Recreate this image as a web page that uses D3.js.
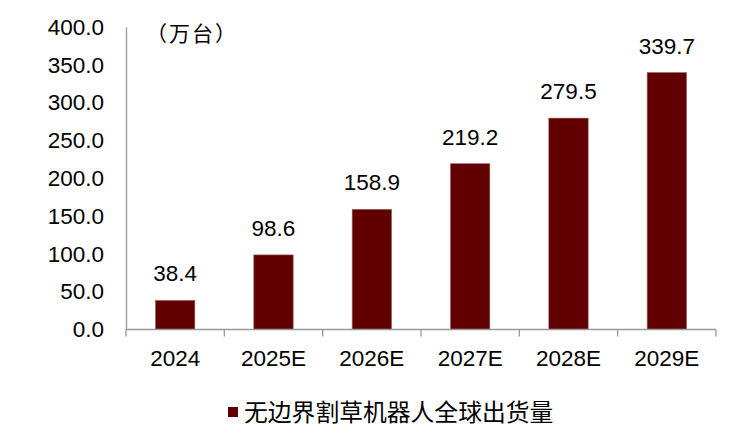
<!DOCTYPE html>
<html><head><meta charset="utf-8">
<script src="https://cdn.jsdelivr.net/npm/d3@7"></script>
<style>body{margin:0;background:#fff}svg{display:block}</style>
</head><body>
<svg id="c" width="742" height="435"></svg>
<script>
const categories = ["2024","2025E","2026E","2027E","2028E","2029E"];
const values = [38.4, 98.6, 158.9, 219.2, 279.5, 339.7];
const yTicks = [0,50,100,150,200,250,300,350,400];
const seriesName = "无边界割草机器人全球出货量";
const unitLabel = "（万台）";

const svg = d3.select("#c");
const font = "Arial, 'Liberation Sans', sans-serif";
const cjk = "'Noto Sans CJK SC', sans-serif";
const fs = 22.5;
const x0 = 126, x1 = 716, yTop = 27, yBot = 329.5;
const p = 0.6;
const x = d3.scaleBand().domain(categories).range([x0, x1]).paddingInner(p).paddingOuter(p/2);
const y = d3.scaleLinear().domain([0,400]).range([yBot, yTop]);
const step = x.step();

// bars
svg.selectAll("rect.bar").data(values).join("rect")
  .attr("class","bar")
  .attr("x",(d,i)=>x(categories[i]))
  .attr("y",d=>y(d))
  .attr("width",x.bandwidth())
  .attr("height",d=>yBot-y(d))
  .attr("fill","#600000")
  .attr("stroke","#9a5a5a").attr("stroke-width",0.6);

// value labels
svg.selectAll("text.val").data(values).join("text")
  .attr("class","val")
  .attr("x",(d,i)=>x(categories[i])+x.bandwidth()/2)
  .attr("y",d=>y(d)-19)
  .attr("text-anchor","middle")
  .attr("font-family",font).attr("font-size",fs).attr("fill","#000")
  .text(d=>d.toFixed(1));

// y axis
const yAxis = d3.axisLeft(y).tickValues(yTicks).tickFormat(d3.format(".1f")).tickSize(0).tickPadding(22);
const gy = svg.append("g").attr("transform",`translate(${x0},0)`).call(yAxis);
gy.select(".domain").attr("stroke","#999").attr("stroke-width",1.3);
gy.selectAll("text").attr("font-family",font).attr("font-size",fs).attr("fill","#000");

// x axis
const gx = svg.append("g");
gx.append("line").attr("x1",x0).attr("x2",x1).attr("y1",yBot).attr("y2",yBot).attr("stroke","#999").attr("stroke-width",1.3);
const bounds = categories.map(c=>x(c)-step*p/2).concat([x1]);
gx.selectAll("line.tk").data(bounds).join("line").attr("class","tk")
  .attr("x1",d=>d).attr("x2",d=>d).attr("y1",yBot).attr("y2",yBot+7)
  .attr("stroke","#999").attr("stroke-width",1.3);
gx.selectAll("text").data(categories).join("text")
  .attr("x",d=>x(d)+x.bandwidth()/2).attr("y",366)
  .attr("text-anchor","middle")
  .attr("font-family",font).attr("font-size",fs).attr("fill","#000")
  .text(d=>d);

// unit
svg.append("text").attr("x",146).attr("y",41).attr("font-family",cjk).attr("font-size",21).attr("letter-spacing",2).attr("fill","#000").text(unitLabel);

// legend
svg.append("rect").attr("x",228).attr("y",407).attr("width",10).attr("height",10).attr("fill","#600000");
svg.append("text").attr("x",244).attr("y",421).attr("font-family",cjk).attr("font-size",23.8).attr("fill","#000").text(seriesName);
</script>
</body></html>
